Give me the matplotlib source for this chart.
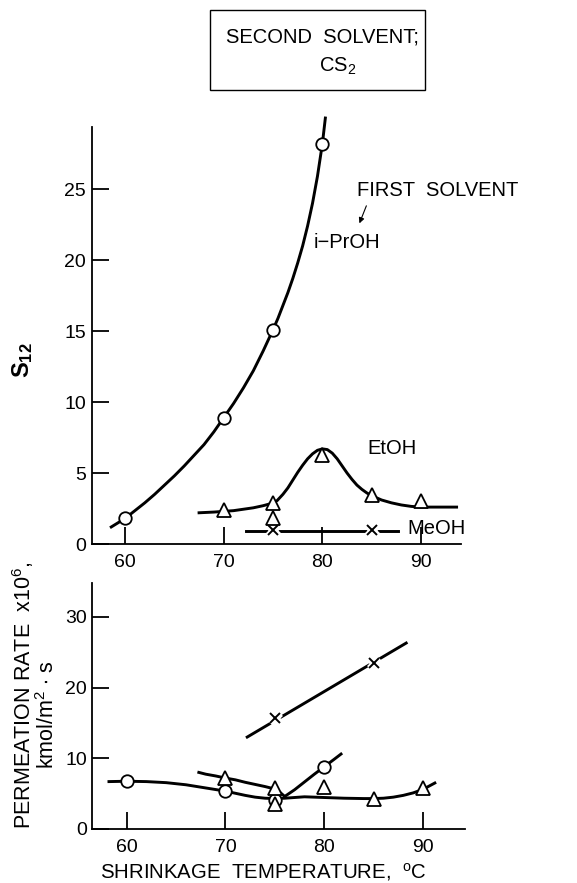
import matplotlib
matplotlib.use("Agg")
import matplotlib.pyplot as plt
from matplotlib.patches import Rectangle

plt.rcParams["font.family"] = ["Liberation Sans", "DejaVu Sans"]
plt.rcParams["mathtext.fontset"] = "custom"
plt.rcParams["mathtext.rm"] = "Liberation Sans"
plt.rcParams["mathtext.bf"] = "Liberation Sans:bold"

# --- upper panel: selectivity S12 ---
top_temps = [60, 70, 75, 80]
top_iproh = [1.8, 8.9, 15.1, 28.2]
top_etoh_temps = [70, 75, 75, 80, 85, 90]
top_etoh = [2.4, 2.9, 1.8, 6.3, 3.45, 3.0]
top_meoh_temps = [75, 85]
top_meoh = [1.0, 1.0]

# hand-drawn guide curves
top_iproh_curve_x = [58.6, 59.3, 60, 61, 62, 63, 64, 65, 66, 67, 68, 69, 70, 71, 72, 73, 74, 75,
                     75.5, 76, 76.5, 77, 77.5, 78, 78.5, 79, 79.5, 80, 80.3]
top_iproh_curve_y = [1.2, 1.5, 1.8, 2.35, 2.9, 3.5, 4.15, 4.8, 5.5, 6.25, 7.0, 7.9, 8.9, 9.9, 11.0, 12.2, 13.6, 15.1,
                     15.9, 16.8, 17.7, 18.7, 19.8, 21.0, 22.4, 24.0, 25.9, 28.2, 30.0]
top_etoh_curve_x = [67.5, 69, 70, 71, 72, 73, 74, 74.8, 75.4, 76, 76.5, 77, 77.5, 78, 78.5, 79, 79.5, 80,
                    80.5, 81, 81.5, 82, 82.5, 83, 83.5, 84, 84.5, 85, 86, 87, 88, 89, 90, 91, 93.6]
top_etoh_curve_y = [2.2, 2.25, 2.3, 2.35, 2.45, 2.55, 2.7, 2.85, 3.05, 3.5, 3.95, 4.5, 5.05, 5.55, 6.0, 6.35, 6.6, 6.7,
                    6.65, 6.4, 6.0, 5.5, 5.0, 4.55, 4.15, 3.85, 3.6, 3.4, 3.1, 2.9, 2.75, 2.65, 2.6, 2.6, 2.6]
top_meoh_line_x = [72.3, 87.7]
top_meoh_line_y = [0.95, 0.95]

# --- lower panel: permeation rate ---
bot_iproh_temps = [60, 70, 75, 80]
bot_iproh = [6.8, 5.4, 4.1, 8.8]
bot_etoh_temps = [70, 75, 75, 80, 85, 90]
bot_etoh = [7.2, 5.8, 3.6, 5.9, 4.2, 5.8]
bot_meoh_temps = [75, 85]
bot_meoh = [15.7, 23.5]

bot_curve_a_x = [58.2, 60, 62, 64, 66, 68, 70, 71, 72, 73, 74, 75, 76, 77, 78, 79, 80, 82, 84, 85,
                 86, 87, 88, 89, 90, 91.2]
bot_curve_a_y = [6.7, 6.75, 6.7, 6.55, 6.25, 5.8, 5.35, 5.05, 4.75, 4.5, 4.35, 4.3, 4.35, 4.45, 4.55, 4.5, 4.45,
                 4.35, 4.3, 4.3, 4.35, 4.5, 4.75, 5.1, 5.6, 6.5]
bot_curve_b_x = [67.3, 68, 69, 70, 71, 72, 73, 74, 75, 75.5, 76, 77, 78, 79, 80, 81, 81.7]
bot_curve_b_y = [8.0, 7.75, 7.5, 7.2, 6.95, 6.6, 6.3, 6.0, 5.65, 5.2, 4.6, 5.55, 6.65, 7.75, 8.8, 9.85, 10.6]
bot_meoh_line_x = [72.2, 88.3]
bot_meoh_line_y = [13.0, 26.3]

fig = plt.figure(figsize=(5.77, 8.83), dpi=100)
ax1 = fig.add_axes([0.1586, 0.3839, 0.6404, 0.4723])
ax2 = fig.add_axes([0.1601, 0.0612, 0.6452, 0.2786])

lw = 2.1
circ = dict(marker="o", ms=9, mfc="white", mec="black", mew=1.3, ls="none", zorder=5, clip_on=False)
tri = dict(marker="^", ms=10.5, mfc="white", mec="black", mew=1.3, ls="none", zorder=5, clip_on=False)


def cross(ax, xs, ys):
    # white halo leaves the small gaps seen around the x marks
    ax.plot(xs, ys, marker="x", ms=7.5, mew=5, color="white", ls="none", zorder=4, clip_on=False)
    ax.plot(xs, ys, marker="x", ms=7.5, mew=1.4, color="black", ls="none", zorder=5, clip_on=False)


for ax in (ax1, ax2):
    for s in ("top", "right"):
        ax.spines[s].set_visible(False)
    for s in ("left", "bottom"):
        ax.spines[s].set_linewidth(1.3)
    ax.tick_params(direction="in", length=12.5, width=1.3, labelsize=14, colors="black")
    ax.tick_params(axis="y", pad=4)
    ax.tick_params(axis="x", pad=7)
    ax.set_xticks([60, 70, 80, 90])

# upper panel
ax1.set_xlim(56.6, 94.05)
ax1.set_ylim(0, 29.37)
ax1.set_yticks([0, 5, 10, 15, 20, 25])
ax1.plot(top_iproh_curve_x, top_iproh_curve_y, color="black", lw=lw, clip_on=False, solid_joinstyle="round")
ax1.plot(top_etoh_curve_x, top_etoh_curve_y, color="black", lw=lw, clip_on=False, solid_joinstyle="round")
ax1.plot(top_meoh_line_x, top_meoh_line_y, color="black", lw=lw, clip_on=False)
ax1.plot(top_temps, top_iproh, **circ)
ax1.plot(top_etoh_temps, top_etoh, **tri)
cross(ax1, top_meoh_temps, top_meoh)

ax1.text(83.55, 24.9, "FIRST  SOLVENT", fontsize=14.5, va="center", ha="left", clip_on=False)
ax1.text(79.1, 21.2, "i\u2212PrOH", fontsize=14.5, va="center", ha="left")
ax1.annotate("", xy=(83.65, 22.4), xytext=(84.56, 24.0),
             arrowprops=dict(arrowstyle="-|>", color="black", lw=0.8, mutation_scale=8))
ax1.text(84.56, 6.76, "EtOH", fontsize=14.5, va="center", ha="left")
ax1.text(88.6, 1.1, "MeOH", fontsize=14.5, va="center", ha="left", clip_on=False)

# lower panel
ax2.set_xlim(56.52, 94.22)
ax2.set_ylim(0, 34.8)
ax2.set_yticks([0, 10, 20, 30])
ax2.plot(bot_curve_a_x, bot_curve_a_y, color="black", lw=lw, solid_joinstyle="round")
ax2.plot(bot_curve_b_x, bot_curve_b_y, color="black", lw=lw, solid_joinstyle="round")
ax2.plot(bot_meoh_line_x, bot_meoh_line_y, color="black", lw=lw)
ax2.plot(bot_iproh_temps, bot_iproh, **circ)
ax2.plot(bot_etoh_temps, bot_etoh, **tri)
cross(ax2, bot_meoh_temps, bot_meoh)

# axis labels
fig.text(23 / 577, 1 - 360 / 883, r"$\mathbf{S_{12}}$", fontsize=17, rotation=90, ha="center", va="center")
fig.text(23 / 577, 1 - 695 / 883, r"PERMEATION RATE  x10$^6$,", fontsize=15.5, rotation=90, ha="center", va="center")
fig.text(48 / 577, 1 - 715 / 883, r"kmol/m$^2$ $\bullet$ s", fontsize=15.5, rotation=90, ha="center", va="center")
fig.text(263 / 577, 1 - 872 / 883, r"SHRINKAGE  TEMPERATURE,  $^{\rm o}$C", fontsize=14.7, ha="center", va="center")

# title box
fig.patches.append(Rectangle((210 / 577, 1 - 90 / 883), 215 / 577, 80 / 883,
                             transform=fig.transFigure, fill=False, ec="black", lw=1.0))
fig.text(322 / 577, 1 - 37 / 883, "SECOND  SOLVENT;", fontsize=14.5, ha="center", va="center")
fig.text(338 / 577, 1 - 66 / 883, r"CS$_2$", fontsize=14.5, ha="center", va="center")

fig.savefig("out.png", dpi=100, facecolor="white")
